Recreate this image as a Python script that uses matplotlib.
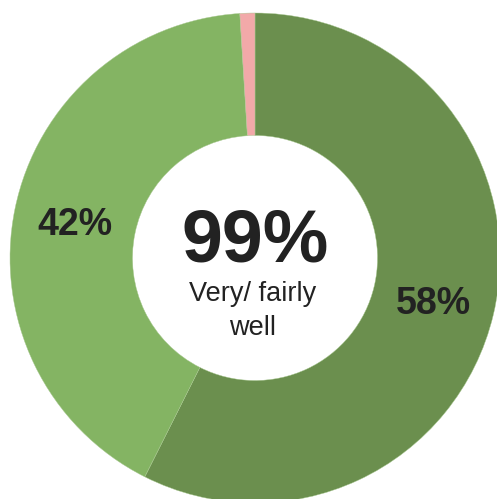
import matplotlib
matplotlib.use("Agg")
import matplotlib.pyplot as plt

plt.rcParams["font.family"] = ["Liberation Sans", "DejaVu Sans"]

# Share of responses (clockwise from 12 o'clock)
CATEGORIES = ["Very well", "Fairly well", "Not well"]
SHARES = [58, 42, 1]
SLICE_LABELS = ["58%", "42%", ""]
COLORS = ["#6b8f4e", "#84b463", "#f2a9a9"]

CENTER_VALUE = "99%"
CENTER_CAPTION = "Very/ fairly\nwell"

W, H = 497, 499
fig = plt.figure(figsize=(W / 100, H / 100), dpi=100)
# centre of the ring at pixel (255, 258), outer radius 245 px
R = 245
ax = fig.add_axes([(255 - R) / W, (H - 258 - R) / H, 2 * R / W, 2 * R / H])

wedges, texts = ax.pie(
    SHARES,
    labels=SLICE_LABELS,
    colors=COLORS,
    startangle=90,
    counterclock=False,
    radius=1.0,
    labeldistance=0.75,
    wedgeprops=dict(width=0.5, edgecolor="#a8c890", linewidth=0.3),
    textprops=dict(fontsize=27, fontweight="bold", color="#222222"),
)
for t in texts:
    t.set_horizontalalignment("center")
    t.set_verticalalignment("center_baseline")

ax.text(0.0, 0.065, CENTER_VALUE, ha="center", va="center",
        fontsize=53, fontweight="bold", color="#222222")
ax.text(-0.008, -0.215, CENTER_CAPTION, ha="center", va="center",
        fontsize=19.5, color="#222222", linespacing=1.4)

ax.set_xlim(-1, 1)
ax.set_ylim(-1, 1)
ax.set_aspect("equal")
ax.axis("off")

fig.savefig("out.png", dpi=100)
